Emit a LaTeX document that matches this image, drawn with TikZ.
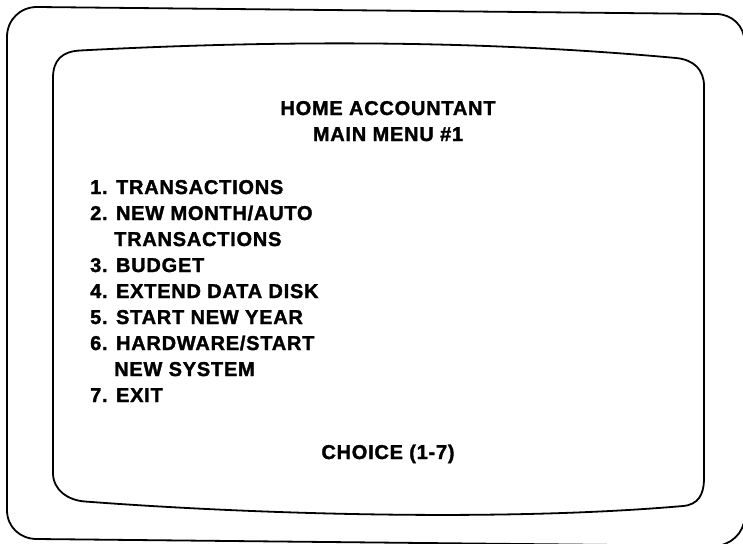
\documentclass[tikz,border=0pt]{standalone}
\usepackage{fontspec}
\setmainfont{Liberation Sans}[LetterSpace=3.8,FakeBold=1.6]
\begin{document}
\begin{tikzpicture}[x=1pt,y=-1pt,
  frame/.style={line width=1.8pt, line join=round},
  menutxt/.style={font=\fontsize{20}{26}\selectfont\bfseries, inner sep=0pt, anchor=base west},
  headtxt/.style={font=\fontsize{20}{26}\selectfont\bfseries, inner sep=0pt, anchor=base}]
\useasboundingbox (0,0) rectangle (743,543);
\clip (0,0) rectangle (743,543);
% outer casing
\draw[frame] (7,37) .. controls (7,20) and (20,7) .. (37,7) -- (716,14)
  .. controls (732,14) and (744.5,26) .. (744.5,42) -- (744.5,517)
  .. controls (744.5,533) and (730,546) .. (714,546) -- (37,539)
  .. controls (20,539) and (7,527) .. (7,510) -- cycle;
% inner screen
\draw[frame] (53,78) .. controls (53,60) and (62,51.5) .. (80,50.5)
  .. controls (280,40) and (480,40) .. (676,58)
  .. controls (694,59.7) and (704,70) .. (704,86) -- (704,478)
  .. controls (704,495) and (698,504.7) .. (683,506)
  .. controls (500,522) and (250,514) .. (85,501.5)
  .. controls (68,500.3) and (53,490) .. (53,473) -- cycle;
% texts
\node[headtxt] (t1) at (388,115) {HOME ACCOUNTANT};
\node[headtxt] (t2) at (388,141) {MAIN MENU \#1};
\node[menutxt] (i1) at (90,194) {1. TRANSACTIONS};
\node[menutxt] (i2) at (90,220) {2. NEW MONTH/AUTO};
\node[menutxt] (i2b) at (114,246) {TRANSACTIONS};
\node[menutxt] (i3) at (90,272) {3. BUDGET};
\node[menutxt] (i4) at (90,298) {4. EXTEND DATA DISK};
\node[menutxt] (i5) at (90,324) {5. START NEW YEAR};
\node[menutxt] (i6) at (90,350) {6. HARDWARE/START};
\node[menutxt] (i6b) at (114,376) {NEW SYSTEM};
\node[menutxt] (i7) at (90,402) {7. EXIT};
\node[headtxt] (ch) at (388,459) {CHOICE (1-7)};
\end{tikzpicture}
\end{document}
